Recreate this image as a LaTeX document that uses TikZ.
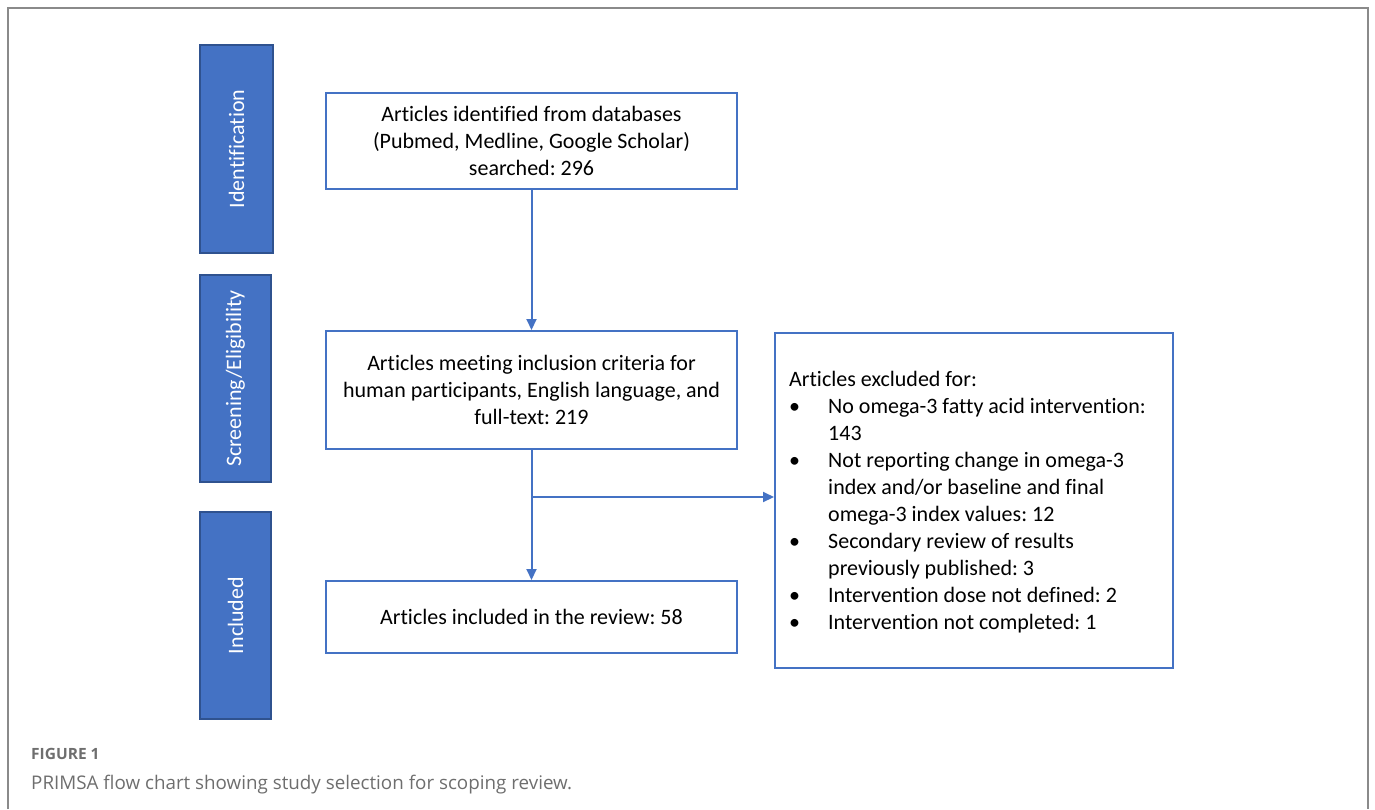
\documentclass[tikz,border=0pt]{standalone}
\usepackage{fontspec}
\setmainfont{Carlito}[Ligatures={NoCommon}]
\newfontfamily\capfont{Open Sans}
\usetikzlibrary{arrows.meta}
\definecolor{bblue}{HTML}{4472C4}
\definecolor{bdark}{HTML}{2F528F}
\definecolor{framegray}{HTML}{8A8A8A}
\definecolor{captxt}{HTML}{6E6E6E}
\frenchspacing
\begin{document}
\begin{tikzpicture}[x=1pt,y=-1pt,
  every node/.style={font=\fontsize{22}{27}\selectfont},
  bar/.style={draw=bdark,line width=1.2pt,fill=bblue,text=white,inner sep=0pt},
  flowbox/.style={draw=bblue,line width=2pt,align=center,inner sep=0pt,minimum width=411pt},
  conn/.style={draw=bblue,line width=2pt,-{Triangle[length=11pt,width=10pt]}}]
\useasboundingbox (0,0) rectangle (1375,809);
\draw[framegray,line width=2pt] (8,809) -- (8,8) -- (1368,8) -- (1368,809);
% phase bars
\node[bar,minimum width=73pt,minimum height=208pt] (idbar) at (236.5,149) {\rotatebox{90}{Identification}};
\node[bar,minimum width=71pt,minimum height=207pt] (scbar) at (235.5,378.5) {\rotatebox{90}{Screening/Eligibility}};
\node[bar,minimum width=71pt,minimum height=207pt] (inbar) at (235.5,615.5) {\rotatebox{90}{Included}};
% flow boxes
\node[flowbox,minimum height=96pt] (b1) at (531.5,141) {Articles identified from databases\\(Pubmed, Medline, Google Scholar)\\searched: 296};
\node[flowbox,minimum height=118pt] (b2) at (531.5,390) {Articles meeting inclusion criteria for\\human participants, English language, and\\full-text: 219};
\node[flowbox,minimum height=72pt] (b3) at (531.5,617) {Articles included in the review: 58};
\node[draw=bblue,line width=2pt,minimum width=398pt,minimum height=335pt,inner sep=0pt] (ex) at (974,500.5) {};
\node[anchor=west,align=left,inner sep=0pt] (extext) at (789,502) {Articles excluded for:\\
\makebox[39pt][l]{\textbullet}No omega-3 fatty acid intervention:\\
\hspace*{39pt}143\\
\makebox[39pt][l]{\textbullet}Not reporting change in omega-3\\
\hspace*{39pt}index and/or baseline and final\\
\hspace*{39pt}omega-3 index values: 12\\
\makebox[39pt][l]{\textbullet}Secondary review of results\\
\hspace*{39pt}previously published: 3\\
\makebox[39pt][l]{\textbullet}Intervention dose not defined: 2\\
\makebox[39pt][l]{\textbullet}Intervention not completed: 1};
% connectors
\draw[conn] (b1) -- (b2);
\draw[conn] (b2) -- (b3);
\coordinate (br) at (531.5,497);
\draw[conn] (br) -- (br -| ex.west);
% caption
\node[anchor=base west,inner sep=0pt,font=\capfont\bfseries\fontsize{15.5}{18}\selectfont,text=captxt] (figlab) at (31,759) {FIGURE 1};
\node[anchor=base west,inner sep=0pt,font=\capfont\fontsize{18.8}{22}\selectfont,text=captxt] (cap) at (31,789) {PRIMSA flow chart showing study selection for scoping review.};
\end{tikzpicture}
\end{document}
